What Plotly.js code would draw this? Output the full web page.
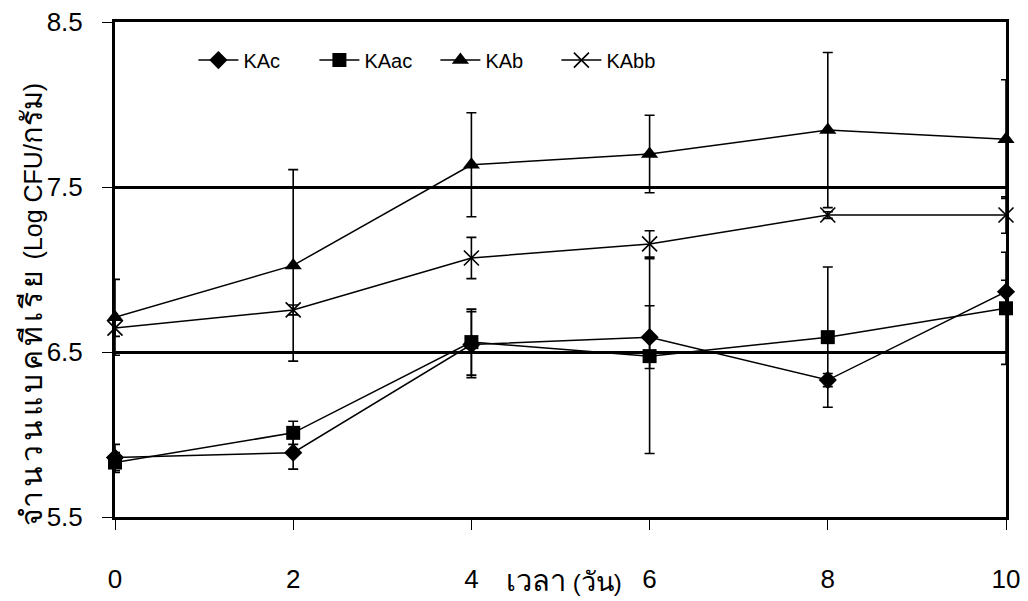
<!DOCTYPE html>
<html>
<head>
<meta charset="utf-8">
<script src="https://cdn.plot.ly/plotly-3.0.1.min.js"></script>
<style>html,body{margin:0;padding:0;background:#fff;}#chart{width:1028px;height:601px;}</style>
</head>
<body>
<div id="chart"></div>
<script>
var days = [0, 2, 4, 6, 8, 10];
var seriesNames = ["KAc", "KAac", "KAb", "KAbb"];
var KAc = [5.86, 5.89, 6.545, 6.59, 6.33, 6.865];
var KAcErr = [0.08, 0.10, 0.20, 0.19, 0.04, 0.07];
var KAac = [5.83, 6.01, 6.56, 6.475, 6.59, 6.765];
var KAacErr = [0.06, 0.07, 0.20, 0.59, 0.425, 0.34];
var KAb = [6.71, 7.025, 7.635, 7.70, 7.845, 7.79];
var KAbErr = [0.23, 0.58, 0.315, 0.235, 0.47, 0.36];
var KAbb = [6.645, 6.755, 7.07, 7.155, 7.33, 7.33];
var KAbbErr = [0.05, 0.03, 0.125, 0.08, 0.02, 0.11];
var yTicks = [5.5, 6.5, 7.5, 8.5];
var xTicks = [0, 2, 4, 6, 8, 10];
var xTitle = "<span style='font-size:29px'>เวลา</span> (<span style='font-size:27px'>วัน</span>)";
var yTitle = "<span style='font-size:30px;letter-spacing:4px'>จำนวนแบคทีเรีย</span> <span style='font-size:25px'>(Log CFU/</span><span style='font-size:29px'>กรัม</span><span style='font-size:25px'>)</span>";

var font = "'Liberation Sans', Arial, sans-serif";
var values = [KAc, KAac, KAb, KAbb];
var errs = [KAcErr, KAacErr, KAbErr, KAbbErr];
var symbols = ["diamond", "square", "triangle-up", "x-thin-open"];
var sizes = [14, 14, 15, 15];

var traces = seriesNames.map(function (n, i) {
  return {
    x: days, y: values[i], name: n, type: "scatter", mode: "lines+markers",
    cliponaxis: false,
    line: {color: "#000", width: 1.5},
    marker: {symbol: symbols[i], size: sizes[i], color: "#000",
             line: {color: "#000", width: i === 3 ? 1.6 : 0}},
    error_y: {type: "data", array: errs[i], visible: true, color: "#000", thickness: 1.6, width: 5}
  };
});

var layout = {
  width: 1028, height: 601,
  margin: {l: 115, r: 22, t: 22, b: 84},
  paper_bgcolor: "#fff", plot_bgcolor: "#fff",
  font: {family: font, color: "#000", size: 24},
  showlegend: true,
  legend: {orientation: "h", x: 0.088, xanchor: "left", y: 0.923, yanchor: "middle",
           font: {family: font, size: 20, color: "#000"}, bgcolor: "rgba(0,0,0,0)",
           itemwidth: 40, entrywidth: 66, entrywidthmode: "pixels", traceorder: "normal"},
  xaxis: {range: [0, 10], tickvals: xTicks, ticktext: xTicks.map(String),
          showline: true, mirror: true, linecolor: "#000", linewidth: 3,
          showgrid: false, zeroline: false, ticks: "outside", ticklen: 10, tickwidth: 1,
          tickcolor: "#000", ticklabelstandoff: 27,
          tickfont: {family: font, size: 26, color: "#000"}},
  yaxis: {range: [5.5, 8.5], tickvals: yTicks, ticktext: yTicks.map(function (v) { return v.toFixed(1); }),
          showline: true, mirror: true, linecolor: "#000", linewidth: 3,
          showgrid: true, gridcolor: "#000", gridwidth: 3, zeroline: false,
          ticks: "outside", ticklen: 10, tickwidth: 1, tickcolor: "#000", ticklabelstandoff: 14,
          tickfont: {family: font, size: 26, color: "#000"}},
  annotations: [
    {text: xTitle, xref: "paper", yref: "paper", x: 0.504, y: -0.129,
     xanchor: "center", yanchor: "middle", showarrow: false,
     font: {family: font, size: 24, color: "#000"}},
    {text: yTitle, xref: "paper", yref: "paper", x: -0.094, y: 0.43, textangle: -90,
     xanchor: "center", yanchor: "middle", showarrow: false,
     font: {family: font, size: 25, color: "#000"}}
  ]
};

Plotly.newPlot("chart", traces, layout, {displayModeBar: false, staticPlot: true});
</script>
</body>
</html>
